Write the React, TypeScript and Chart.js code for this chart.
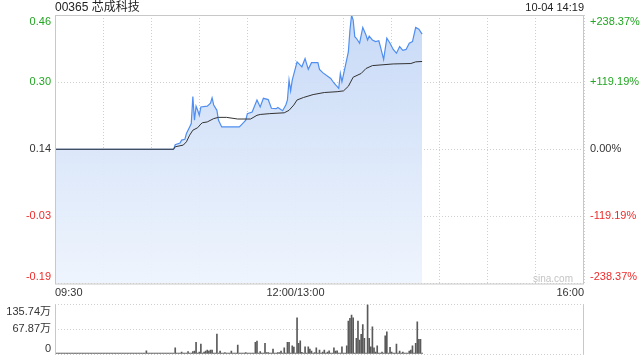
import React, { useEffect, useRef } from 'react';
import { Chart, registerables } from 'chart.js';

Chart.register(...registerables);

const FONT = '"Liberation Sans", Arial, "Noto Sans CJK SC", sans-serif';

const stockTitle = '00365 芯成科技';
const stampText = '10-04 14:19';
const watermark = 'sina.com';

const prevClose = 0.136;
const pctTicks = [238.37, 119.19, 0, -119.19, -238.37];
const priceTickLabels = ['0.46', '0.30', '0.14', '-0.03', '-0.19'];
const pctTickLabels = ['+238.37%', '+119.19%', '0.00%', '-119.19%', '-238.37%'];

// minutes since 09:30 (lunch break collapsed: 150 = 12:00/13:00, 330 = 16:00)
const timeGridMinutes = [0, 30, 60, 90, 120, 150, 180, 210, 240, 270, 300, 330];
const timeLabelMinutes = [0, 150, 330];
const timeLabelTexts = ['09:30', '12:00/13:00', '16:00'];
const tradedMinutes = 230;

const volTickValues = [135.74, 67.87, 0];
const volTickLabels = ['135.74万', '67.87万', '0'];

// [minute, price]
const pricePoints: [number, number][] = [
  [0, 0.136], [74, 0.136], [75, 0.147], [78, 0.151], [79, 0.158], [81, 0.160], [82, 0.174],
  [84, 0.190], [85, 0.198], [86, 0.263], [87, 0.206], [88, 0.240], [89, 0.230], [90, 0.218],
  [91, 0.238], [95, 0.240], [97, 0.247], [98, 0.260], [99, 0.243], [101, 0.230], [102, 0.206],
  [104, 0.190], [115, 0.190], [117, 0.198], [119, 0.206], [120, 0.222], [123, 0.226],
  [126, 0.255], [128, 0.238], [130, 0.259], [133, 0.256], [135, 0.235], [138, 0.234],
  [139, 0.237], [142, 0.229], [144, 0.243], [145, 0.255], [146, 0.303], [147, 0.277],
  [148, 0.303], [151, 0.347], [153, 0.339], [154, 0.335], [156, 0.355], [158, 0.329],
  [160, 0.345], [164, 0.345], [165, 0.329], [167, 0.321], [172, 0.307], [174, 0.296],
  [177, 0.283], [178, 0.319], [179, 0.299], [181, 0.335], [183, 0.371], [184, 0.424],
  [185, 0.460], [186, 0.448], [187, 0.408], [188, 0.404], [190, 0.392], [192, 0.430],
  [194, 0.412], [195, 0.400], [196, 0.409], [198, 0.400], [200, 0.396], [202, 0.398],
  [203, 0.384], [205, 0.353], [207, 0.404], [209, 0.392], [211, 0.377], [213, 0.368],
  [215, 0.384], [217, 0.375], [219, 0.377], [221, 0.392], [223, 0.396], [225, 0.430],
  [227, 0.426], [229, 0.414],
];

// [minute, average price]
const avgPoints: [number, number][] = [
  [0, 0.136], [74, 0.136], [75, 0.142], [80, 0.146], [82, 0.154], [84, 0.170], [86, 0.182],
  [89, 0.188], [91, 0.197], [92, 0.200], [95, 0.202], [99, 0.210], [102, 0.213], [107, 0.213],
  [114, 0.209], [122, 0.209], [126, 0.218], [128, 0.220], [134, 0.222], [143, 0.224],
  [146, 0.230], [149, 0.243], [151, 0.255], [155, 0.261], [161, 0.268], [168, 0.273],
  [176, 0.275], [180, 0.277], [183, 0.288], [186, 0.310], [191, 0.319], [194, 0.331],
  [198, 0.338], [211, 0.342], [222, 0.343], [225, 0.347], [229, 0.348],
];

// [minute, volume in 万]
const volumeBars: [number, number][] = [
  [29, 2.7], [57, 9], [75, 17], [79, 5.5], [83, 6.3], [86, 6.3], [87, 8.2], [88, 32], [90, 5.5],
  [91, 27.3], [93, 5.5], [94, 8], [95, 11], [96, 8.2], [97, 11], [98, 11], [101, 54.6],
  [103, 8.2], [106, 4], [110, 8.2], [114, 24.6], [119, 4], [125, 32], [126, 35.5], [128, 6.3],
  [131, 29.2], [132, 4], [133, 4], [134, 2.7], [136, 13.7], [139, 4], [140, 4], [141, 8.2],
  [143, 17.2], [145, 32], [146, 32], [148, 22.7], [149, 19], [151, 99], [152, 29], [153, 36.3],
  [154, 4.6], [156, 20], [158, 20], [159, 13.7], [160, 8.2], [162, 4], [163, 17.2], [165, 11],
  [167, 5.5], [168, 11], [170, 5.5], [171, 9], [174, 17.2], [175, 8.2], [176, 9], [179, 20],
  [180, 2.7], [182, 22.7], [183, 90], [184, 97.5], [185, 106.5], [186, 99], [188, 43],
  [189, 90], [190, 38], [191, 54], [192, 81], [193, 43], [195, 135.7], [196, 43], [197, 20],
  [198, 74.6], [199, 17.2], [200, 5.5], [201, 22.7], [203, 2.7], [204, 5.5], [206, 50],
  [207, 61], [209, 18.3], [210, 5.5], [213, 27.3], [215, 8.2], [217, 5.5], [219, 2.7],
  [221, 8.2], [222, 11], [223, 22.7], [225, 29.2], [226, 88.2], [227, 40], [228, 40],
];

const GREEN = '#22a622';
const RED = '#ee2b2b';
const TEXT = '#333333';
const GRID = '#cfcfcf';
const FRAME = '#c8c8c8';

function labelColor(p: number) {
  if (p > 0) return GREEN;
  if (p < 0) return RED;
  return TEXT;
}

export default function App() {
  const mainRef = useRef<HTMLCanvasElement | null>(null);
  const volRef = useRef<HTMLCanvasElement | null>(null);

  useEffect(() => {
    if (!mainRef.current || !volRef.current) return;
    const priceTickValues = pctTicks.map((p) => prevClose * (1 + p / 100));
    const yMax = priceTickValues[0];
    const yMin = priceTickValues[priceTickValues.length - 1];

    const mainPlugin = {
      id: 'mainDecor',
      afterDraw(chart: any) {
        const { ctx, chartArea: ca, scales } = chart;
        ctx.save();
        ctx.strokeStyle = FRAME;
        ctx.lineWidth = 1;
        ctx.setLineDash([]);
        ctx.strokeRect(ca.left + 0.5, ca.top + 0.5, ca.right - ca.left - 1, ca.bottom - ca.top);
        const ys = scales.y;
        ctx.font = `11px ${FONT}`;
        pctTicks.forEach((p, i) => {
          const y = ys.getPixelForValue(priceTickValues[i]);
          ctx.textBaseline = i === 0 ? 'top' : i === pctTicks.length - 1 ? 'bottom' : 'middle';
          const yy = i === 0 ? y + 1 : i === pctTicks.length - 1 ? y - 1 : y;
          ctx.fillStyle = labelColor(p);
          ctx.textAlign = 'right';
          ctx.fillText(priceTickLabels[i], ca.left - 4, yy);
          ctx.textAlign = 'left';
          ctx.fillText(pctTickLabels[i], ca.right + 6, yy);
        });
        ctx.fillStyle = '#222';
        ctx.textBaseline = 'middle';
        ctx.textAlign = 'left';
        ctx.font = `12px ${FONT}`;
        ctx.fillText(stockTitle, ca.left, 8);
        ctx.textAlign = 'right';
        ctx.font = `11px ${FONT}`;
        ctx.fillText(stampText, ca.right, 8);
        ctx.fillStyle = '#c4c4c4';
        ctx.font = `10px ${FONT}`;
        ctx.fillText(watermark, ca.right - 11, ca.bottom - 4);
        ctx.restore();
      },
    };

    const main = new Chart(mainRef.current, {
      type: 'line',
      data: {
        datasets: [
          {
            label: '均价',
            data: avgPoints.map(([x, y]) => ({ x, y })),
            borderColor: '#333333',
            borderWidth: 1,
            pointRadius: 0,
            fill: false,
            tension: 0,
          },
          {
            label: '价格',
            data: pricePoints.map(([x, y]) => ({ x, y })),
            borderColor: '#4f8ef0',
            borderWidth: 1.2,
            pointRadius: 0,
            tension: 0,
            fill: 'start',
            backgroundColor: (c: any) => {
              const ca = c.chart.chartArea;
              if (!ca) return 'rgba(210,225,248,0.8)';
              const g = c.chart.ctx.createLinearGradient(0, ca.top, 0, ca.bottom);
              g.addColorStop(0, 'rgba(197,216,246,0.95)');
              g.addColorStop(1, 'rgba(238,244,253,0.95)');
              return g;
            },
          },
        ],
      },
      options: {
        animation: false,
        responsive: false,
        maintainAspectRatio: false,
        events: [],
        layout: { padding: { top: 15, right: 56, left: 0, bottom: 0 } },
        plugins: { legend: { display: false }, tooltip: { enabled: false } },
        scales: {
          x: {
            type: 'linear',
            min: 0,
            max: 330,
            offset: false,
            afterBuildTicks: (s: any) => {
              s.ticks = timeGridMinutes.map((v) => ({ value: v }));
            },
            afterFit: (s: any) => {
              s.height = 16.5;
            },
            grid: { color: GRID, drawTicks: false },
            border: { display: false, dash: [1, 2] },
            ticks: {
              autoSkip: false,
              maxRotation: 0,
              align: 'inner',
              padding: 3,
              color: TEXT,
              font: { family: FONT, size: 11 },
              callback: (v: any) => {
                const i = timeLabelMinutes.indexOf(Number(v));
                return i >= 0 ? timeLabelTexts[i] : '';
              },
            },
          },
          y: {
            type: 'linear',
            min: yMin,
            max: yMax,
            afterBuildTicks: (s: any) => {
              s.ticks = priceTickValues.map((v) => ({ value: v }));
            },
            afterFit: (s: any) => {
              s.width = 55;
            },
            grid: { color: GRID, drawTicks: false },
            border: { display: false, dash: [1, 2] },
            ticks: { display: false },
          },
        },
      },
      plugins: [mainPlugin],
    } as any);

    const volMap = new Map<number, number>(volumeBars);
    const volSeries = Array.from({ length: tradedMinutes }, (_, m) => ({ x: m, y: volMap.get(m) ?? 0 }));

    const volPlugin = {
      id: 'volDecor',
      afterDraw(chart: any) {
        const { ctx, chartArea: ca, scales } = chart;
        ctx.save();
        ctx.strokeStyle = FRAME;
        ctx.lineWidth = 1;
        ctx.beginPath();
        ctx.moveTo(ca.left + 0.5, ca.top);
        ctx.lineTo(ca.left + 0.5, ca.bottom);
        ctx.moveTo(ca.right - 0.5, ca.top);
        ctx.lineTo(ca.right - 0.5, ca.bottom);
        ctx.stroke();
        ctx.font = `11px ${FONT}`;
        ctx.fillStyle = TEXT;
        ctx.textAlign = 'right';
        volTickValues.forEach((v, i) => {
          const y = scales.y.getPixelForValue(v);
          ctx.textBaseline = i === 0 ? 'top' : i === volTickValues.length - 1 ? 'bottom' : 'middle';
          const yy = i === 0 ? y + 2 : y;
          ctx.fillText(volTickLabels[i], ca.left - 4, yy);
        });
        ctx.restore();
      },
    };

    const vol = new Chart(volRef.current, {
      type: 'bar',
      data: {
        datasets: [
          {
            label: '成交量',
            data: volSeries,
            backgroundColor: '#5a5a5a',
            barThickness: 1,
            minBarLength: 1,
          },
        ],
      },
      options: {
        animation: false,
        responsive: false,
        maintainAspectRatio: false,
        events: [],
        layout: { padding: { top: 4.5, right: 56, left: 0, bottom: 6 } },
        plugins: { legend: { display: false }, tooltip: { enabled: false } },
        scales: {
          x: {
            type: 'linear',
            min: 0,
            max: 330,
            offset: false,
            display: false,
            grid: { display: false },
          },
          y: {
            type: 'linear',
            min: 0,
            max: volTickValues[0],
            afterBuildTicks: (s: any) => {
              s.ticks = volTickValues.map((v) => ({ value: v }));
            },
            afterFit: (s: any) => {
              s.width = 55;
            },
            grid: { color: GRID, drawTicks: false },
            border: { display: false, dash: [1, 2] },
            ticks: { display: false },
          },
        },
      },
      plugins: [volPlugin],
    } as any);

    return () => {
      main.destroy();
      vol.destroy();
    };
  }, []);

  return (
    <div style={{ position: 'fixed', left: 0, top: 0, width: 640, height: 360, background: '#ffffff' }}>
      <canvas
        ref={mainRef}
        width={640}
        height={300}
        style={{ position: 'absolute', left: 0, top: 0, width: 640, height: 300 }}
      />
      <canvas
        ref={volRef}
        width={640}
        height={60}
        style={{ position: 'absolute', left: 0, top: 300, width: 640, height: 60 }}
      />
    </div>
  );
}
